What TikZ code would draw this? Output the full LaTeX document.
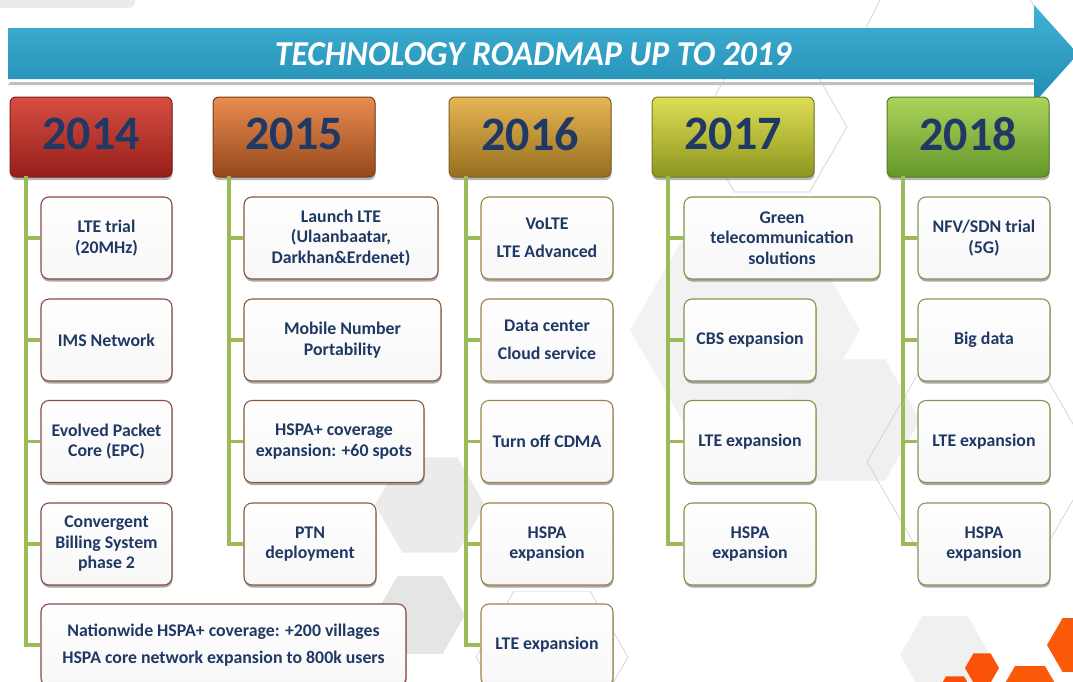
\documentclass[tikz,border=0pt]{standalone}
\usepackage{fontspec}
\setmainfont{Carlito}
\usetikzlibrary{shadows,calc}
\definecolor{navy}{HTML}{1F3864}
\definecolor{conn}{HTML}{9BBB59}
\definecolor{bc1}{HTML}{8C4A44}
\definecolor{bc2}{HTML}{8A5A3C}
\definecolor{bc3}{HTML}{9A8448}
\definecolor{bc4}{HTML}{8A9044}
\definecolor{bc5}{HTML}{7E9A50}
\definecolor{orng}{HTML}{FA5A0A}
\newcommand\hexfill[4]{\fill[#4] ({#1+#3},#2) -- ({#1+#3/2},{#2+0.866*#3}) -- ({#1-#3/2},{#2+0.866*#3}) -- ({#1-#3},#2) -- ({#1-#3/2},{#2-0.866*#3}) -- ({#1+#3/2},{#2-0.866*#3}) -- cycle;}
\newcommand\hexline[4]{\draw[#4] ({#1+#3},#2) -- ({#1+#3/2},{#2+0.866*#3}) -- ({#1-#3/2},{#2+0.866*#3}) -- ({#1-#3},#2) -- ({#1-#3/2},{#2-0.866*#3}) -- ({#1+#3/2},{#2-0.866*#3}) -- cycle;}
\begin{document}
\begin{tikzpicture}[x=1pt,y=-1pt,
  item/.style={draw=#1, line width=1.1pt, rounded corners=8pt, top color=white, bottom color=black!3,
    align=center, text=navy, font=\bfseries\fontsize{17.8}{20.5}\selectfont, inner sep=2pt,
    drop shadow={shadow xshift=0.5pt, shadow yshift=-2.5pt, opacity=.45, fill=black!75}},
  year/.style={rounded corners=6pt, line width=1pt, text=navy, font=\bfseries\fontsize{48}{48}\selectfont,
    minimum width=162pt, minimum height=80pt, text depth=6pt,
    drop shadow={shadow xshift=0.5pt, shadow yshift=-3pt, opacity=.4, fill=black!70}},
  y14/.style={year, top color={rgb,255:red,214;green,78;blue,66}, middle color={rgb,255:red,190;green,45;blue,38}, bottom color={rgb,255:red,150;green,30;blue,25}, draw={rgb,255:red,125;green,30;blue,25}},
  y15/.style={year, top color={rgb,255:red,232;green,140;blue,80}, middle color={rgb,255:red,200;green,102;blue,46}, bottom color={rgb,255:red,150;green,72;blue,28}, draw={rgb,255:red,120;green,60;blue,25}},
  y16/.style={year, top color={rgb,255:red,230;green,182;blue,84}, middle color={rgb,255:red,200;green,150;blue,50}, bottom color={rgb,255:red,150;green,110;blue,30}, draw={rgb,255:red,125;green,95;blue,30}},
  y17/.style={year, top color={rgb,255:red,222;green,222;blue,84}, middle color={rgb,255:red,188;green,192;blue,46}, bottom color={rgb,255:red,140;green,150;blue,30}, draw={rgb,255:red,115;green,125;blue,30}},
  y18/.style={year, top color={rgb,255:red,172;green,212;blue,92}, middle color={rgb,255:red,140;green,188;blue,60}, bottom color={rgb,255:red,100;green,150;blue,40}, draw={rgb,255:red,85;green,125;blue,35}},
  cline/.style={draw=conn, line width=3.5pt},
  bgline/.style={draw=black!20, line width=0.6pt}
]
\useasboundingbox (0,0) rectangle (1073,681);
\clip (0,0) rectangle (1073,681);
\fill[white] (0,0) rectangle (1073,681);
% background decoration
\fill[black!8, rounded corners=6pt] (-10,-10) rectangle (135,8);
\hexfill{745}{330}{115}{black!5}
\hexfill{850}{420}{70}{black!6}
\hexfill{430}{505}{55}{black!8}
\hexfill{420}{615}{45}{black!10}
\hexfill{945}{655}{45}{black!6}
\hexline{772}{127}{75}{bgline}
\hexline{981}{462}{114}{bgline}
\hexline{552}{657}{76}{bgline}
\draw[bgline] (880,0) -- (860,40);
\draw[bgline] (1030,0) -- (1040,15);
% orange hexagons
\hexfill{1078}{645}{31}{orng}
\hexfill{982}{668}{17}{orng!90!red}
\hexfill{1030}{692}{30}{orng}
\hexfill{955}{692}{18}{orng!85!red}
% banner
\fill[black!25] (10,82) -- (1035,82) -- (1035,85) -- (8,85) -- cycle;
\shade[top color={rgb,255:red,64;green,178;blue,212}, bottom color={rgb,255:red,34;green,140;blue,180}]
  (8,28) -- (1034,28) -- (1034,5) -- (1078,54) -- (1034,103) -- (1034,79) -- (8,79) -- cycle;
\node[text=white, font=\bfseries\itshape\fontsize{35}{35}\selectfont, xscale=0.96] (title) at (533,54) {TECHNOLOGY ROADMAP UP TO 2019};
% year boxes
\node[y14] (Y1) at (91,137) {2014};
\node[y15] (Y2) at (294,137) {2015};
\node[y16] (Y3) at (530,137) {2016};
\node[y17] (Y4) at (733,137) {2017};
\node[y18] (Y5) at (968,137) {2018};
\coordinate (c1) at (26,176);
\coordinate (c2) at (229,176);
\coordinate (c3) at (466,176);
\coordinate (c4) at (668,176);
\coordinate (c5) at (903,176);
% column 1
\node[item=bc1, minimum width=131pt, minimum height=82pt] (a1) at (106.5,238) {LTE trial\\(20MHz)};
\node[item=bc1, minimum width=131pt, minimum height=82pt] (a2) at (106.5,340) {IMS Network};
\node[item=bc1, minimum width=131pt, minimum height=82pt] (a3) at (106.5,441.5) {Evolved Packet\\Core (EPC)};
\node[item=bc1, minimum width=131pt, minimum height=82pt] (a4) at (106.5,544) {Convergent\\Billing System\\phase 2};
\node[item=bc1, minimum width=365pt, minimum height=82pt] (a5) at (223.5,645) {Nationwide HSPA+ coverage: +200 villages\\[7pt]HSPA core network expansion to 800k users};
% column 2
\node[item=bc2, minimum width=194pt, minimum height=82pt] (b1) at (341,238) {Launch LTE\\(Ulaanbaatar,\\Darkhan\&Erdenet)};
\node[item=bc2, minimum width=197pt, minimum height=82pt] (b2) at (342.5,340) {Mobile Number\\Portability};
\node[item=bc2, minimum width=180pt, minimum height=82pt] (b3) at (334,441.5) {HSPA+ coverage\\expansion: +60 spots};
\node[item=bc2, minimum width=132pt, minimum height=82pt] (b4) at (310,544) {PTN\\deployment};
% column 3
\node[item=bc3, minimum width=132pt, minimum height=82pt] (d1) at (547,238) {VoLTE\\[7pt]LTE Advanced};
\node[item=bc3, minimum width=132pt, minimum height=82pt] (d2) at (547,340) {Data center\\[7pt]Cloud service};
\node[item=bc3, minimum width=132pt, minimum height=82pt] (d3) at (547,441.5) {Turn off CDMA};
\node[item=bc3, minimum width=132pt, minimum height=82pt] (d4) at (547,544) {HSPA\\expansion};
\node[item=bc3, minimum width=132pt, minimum height=82pt] (d5) at (547,645) {LTE expansion};
% column 4
\node[item=bc4, minimum width=196pt, minimum height=82pt] (e1) at (782,238) {Green\\telecommunication\\solutions};
\node[item=bc4, minimum width=132pt, minimum height=82pt] (e2) at (750,340) {CBS expansion};
\node[item=bc4, minimum width=132pt, minimum height=82pt] (e3) at (750,441.5) {LTE expansion};
\node[item=bc4, minimum width=132pt, minimum height=82pt] (e4) at (750,544) {HSPA\\expansion};
% column 5
\node[item=bc5, minimum width=132pt, minimum height=82pt] (f1) at (984,238) {NFV/SDN trial\\(5G)};
\node[item=bc5, minimum width=132pt, minimum height=82pt] (f2) at (984,340) {Big data};
\node[item=bc5, minimum width=132pt, minimum height=82pt] (f3) at (984,441.5) {LTE expansion};
\node[item=bc5, minimum width=132pt, minimum height=82pt] (f4) at (984,544) {HSPA\\expansion};
% connectors
\foreach \n in {a1,a2,a3,a4,a5} \draw[cline] (c1) |- (\n.west);
\foreach \n in {b1,b2,b3,b4} \draw[cline] (c2) |- (\n.west);
\foreach \n in {d1,d2,d3,d4,d5} \draw[cline] (c3) |- (\n.west);
\foreach \n in {e1,e2,e3,e4} \draw[cline] (c4) |- (\n.west);
\foreach \n in {f1,f2,f3,f4} \draw[cline] (c5) |- (\n.west);
\end{tikzpicture}
\end{document}
